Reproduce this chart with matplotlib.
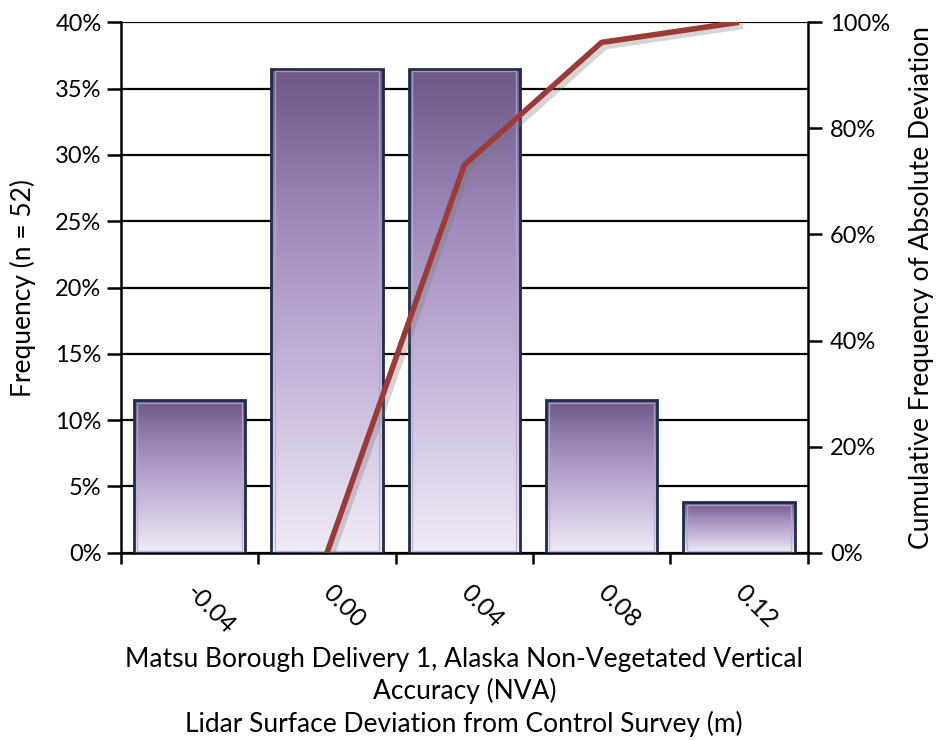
import matplotlib
matplotlib.use("Agg")
import matplotlib.pyplot as plt
import matplotlib.patheffects as pe
import numpy as np
from matplotlib.colors import LinearSegmentedColormap
from matplotlib.ticker import PercentFormatter, FixedLocator

plt.rcParams['font.family'] = ['Lato', 'DejaVu Sans']

# deviation bins (m) and share of the 52 checkpoints in each
bins = ["-0.04", "0.00", "0.04", "0.08", "0.12"]
freq = [11.5, 36.5, 36.5, 11.5, 3.8]

# cumulative frequency of absolute deviation, from the 0.00 bin onwards
cum_bins = ["0.00", "0.04", "0.08", "0.12"]
cum_freq = [0.0, 73.1, 96.2, 100.0]

xlabel = ("Matsu Borough Delivery 1, Alaska Non-Vegetated Vertical\n"
          "Accuracy (NVA)\n"
          "Lidar Surface Deviation from Control Survey (m)")

fig = plt.figure(figsize=(9.38, 7.41), dpi=100)
ax = fig.add_axes([0.129, 0.254, 0.732, 0.716])
ax2 = ax.twinx()

x = np.arange(len(bins))
bars = ax.bar(x, freq, width=0.81, facecolor="none", edgecolor="#1d2d4a",
              linewidth=2.0, zorder=3)

# vertical purple gradient inside each bar
grad = LinearSegmentedColormap.from_list(
    "purp", ["#f1ecf7", "#c9bbdc", "#a18dbd", "#6c5888"])
g = np.linspace(0, 1, 256).reshape(-1, 1)
for b in bars:
    x0, y0 = b.get_x(), b.get_y()
    w, h = b.get_width(), b.get_height()
    im = ax.imshow(g, cmap=grad, origin="lower", aspect="auto",
                   extent=(x0, x0 + w, y0, y0 + h), zorder=2)
    im.set_clip_path(b)
    # thin light rim just inside the dark edge
    ax.add_patch(plt.Rectangle((x0 + 0.025, y0 + 0.15), w - 0.05, h - 0.35,
                               fill=False, edgecolor="#b7a8cf", lw=1.0,
                               alpha=0.8, zorder=3))

ax.set_xlim(-0.5, len(bins) - 0.5)
ax.set_ylim(0, 40)
ax.yaxis.set_major_locator(FixedLocator(np.arange(0, 41, 5)))
ax.yaxis.set_major_formatter(PercentFormatter(decimals=0))
ax.grid(axis="y", color="black", linewidth=1.6, zorder=0)
ax.set_axisbelow(True)

# labels centred on bars, tick marks on the bin edges
ax.set_xticks(x)
ax.set_xticklabels(bins, rotation=-45, ha="left", va="center",
                   rotation_mode="anchor")
ax.tick_params(axis="x", which="major", length=0, pad=26, labelsize=18)
ax.set_xticks(np.arange(-0.5, len(bins)), minor=True)
ax.tick_params(axis="x", which="minor", length=8, width=1.8, direction="out")
ax.tick_params(axis="y", length=10, width=1.8, labelsize=17, pad=4)

ax.set_ylabel("Frequency (n = 52)", fontsize=19, labelpad=14)
ax.set_xlabel(xlabel, fontsize=19, linespacing=1.3, labelpad=6)

for side in ["left", "bottom"]:
    ax.spines[side].set_linewidth(1.8)
ax.spines["top"].set_visible(False)
ax.spines["right"].set_visible(False)

xc = [bins.index(b) for b in cum_bins]
ax2.plot(xc, cum_freq, color="#9c3a35", linewidth=4, solid_capstyle="butt",
         zorder=5,
         path_effects=[pe.SimpleLineShadow(offset=(3, -3), shadow_color="#777777",
                                           alpha=0.3),
                       pe.Normal()])
ax2.set_ylim(0, 100)
ax2.yaxis.set_major_locator(FixedLocator(np.arange(0, 101, 20)))
ax2.yaxis.set_major_formatter(PercentFormatter(decimals=0))
ax2.tick_params(axis="y", length=10, width=1.8, labelsize=17, pad=6)
ax2.set_ylabel("Cumulative Frequency of Absolute Deviation", fontsize=19,
               labelpad=14)
ax2.spines["right"].set_linewidth(1.8)
for side in ["top", "left", "bottom"]:
    ax2.spines[side].set_visible(False)

fig.savefig("out.png", dpi=100)
